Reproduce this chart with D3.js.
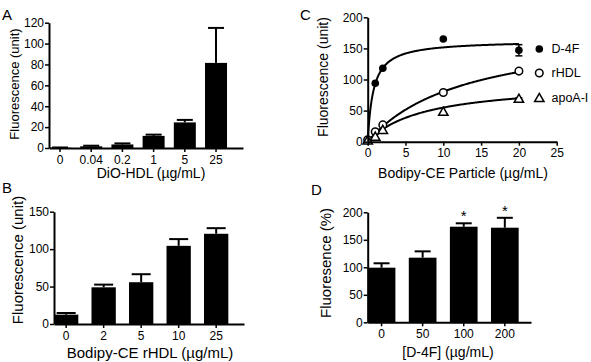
<!DOCTYPE html>
<html lang="en">
<head>
<meta charset="utf-8">
<script src="https://d3js.org/d3.v7.min.js"></script>
<style>
  body { margin: 0; background: #fff; }
  text { font-family: "Liberation Sans", Arial, sans-serif; fill: #000; }
</style>
</head>
<body>
<script>
// ---- data ----
// panel A
var aCats = ["0", "0.04", "0.2", "1", "5", "25"];
var aVals = [0.3, 1.6, 3.4, 11.6, 24.5, 81.5];
var aErrs = [0.2, 0.6, 1.0, 1.2, 2.4, 33.5];
// panel B
var bCats = ["0", "2", "5", "10", "25"];
var bVals = [12.5, 49, 55.8, 104.4, 120.5];
var bErrs = [2.2, 3.6, 10.7, 9, 7.5];
// panel C (points)
var cX = [0, 1, 2, 10, 20];
var cD4F = [3, 94, 118, 165, 147];
var cD4FErr = [0, 0, 0, 0, 9];
var cRHDL = [3, 16, 27, 79, 113.5];
var cRHDLErr = [0, 0, 0, 0, 3.5];
var cApoA = [2, 8, 19, 48, 69];
var cApoAErr = [0, 0, 0, 0, 1.5];
// hyperbolic fit curves drawn in C: [Bmax, Kd]
var fitD4F = [163, 0.75];
var fitRHDL = [185, 13];
var fitApoA = [96, 7.5];
var cSeries = ["D-4F", "rHDL", "apoA-I"];
// panel D
var dCats = ["0", "50", "100", "200"];
var dVals = [99.3, 117.5, 173.8, 172];
var dErrs = [8, 11.5, 6.2, 18];
var dSig = ["", "", "*", "*"];

var width = 591, height = 362;
var svg = d3.select('body').append('svg').attr('width', width).attr('height', height);
svg.append('rect').attr('width', width).attr('height', height).attr('fill', '#fff');

function styleAxis(g, fs) {
    g.select('.domain').attr('stroke', '#000').attr('stroke-width', 2);
    g.selectAll('.tick line').attr('stroke', '#000').attr('stroke-width', 1.5);
    g.selectAll('.tick text').attr('font-size', fs).attr('font-family', '"Liberation Sans", Arial, sans-serif').attr('fill', '#000');
}

function barPanel(p) {
    var x = d3.scaleBand().domain(p.cats).range([p.x0, p.x1]).paddingInner(p.pin).paddingOuter(p.pout).align(0);
    var y = d3.scaleLinear().domain(p.ydom).range([p.y0, p.y1]);
    var g = svg.append('g');

    var data = p.cats.map(function(c, i) { return {c: c, v: p.vals[i], e: p.errs[i], s: p.sig ? p.sig[i] : ''}; });

    // error bars (upper only)
    var eb = g.selectAll('g.err').data(data).join('g');
    eb.append('line')
        .attr('x1', function(d) { return x(d.c) + x.bandwidth() / 2; })
        .attr('x2', function(d) { return x(d.c) + x.bandwidth() / 2; })
        .attr('y1', function(d) { return y(d.v); })
        .attr('y2', function(d) { return y(d.v + d.e); })
        .attr('stroke', '#000').attr('stroke-width', 2);
    eb.append('line')
        .attr('x1', function(d) { return x(d.c) + x.bandwidth() / 2 - p.cap / 2; })
        .attr('x2', function(d) { return x(d.c) + x.bandwidth() / 2 + p.cap / 2; })
        .attr('y1', function(d) { return y(d.v + d.e); })
        .attr('y2', function(d) { return y(d.v + d.e); })
        .attr('stroke', '#000').attr('stroke-width', 2);

    g.selectAll('rect.bar').data(data).join('rect')
        .attr('x', function(d) { return x(d.c); })
        .attr('width', x.bandwidth())
        .attr('y', function(d) { return y(d.v); })
        .attr('height', function(d) { return y(0) - y(d.v); })
        .attr('fill', '#000');

    g.selectAll('text.sig').data(data.filter(function(d) { return d.s; })).join('text')
        .attr('x', function(d) { return x(d.c) + x.bandwidth() / 2; })
        .attr('y', function(d) { return y(d.v + d.e) - 2; })
        .attr('text-anchor', 'middle').attr('font-size', 15).attr('fill', '#000')
        .text(function(d) { return d.s; });

    var ya = g.append('g').attr('transform', 'translate(' + p.x0 + ',0)')
        .call(d3.axisLeft(y).tickValues(p.yticks).tickSize(4).tickSizeOuter(0).tickPadding(1));
    styleAxis(ya, p.tfs);
    var xa = g.append('g').attr('transform', 'translate(0,' + p.y0 + ')')
        .call(d3.axisBottom(x).tickSize(4).tickSizeOuter(0).tickPadding(3));
    styleAxis(xa, p.tfs);

    g.append('text').attr('transform', 'translate(' + p.ytx + ',' + p.yty + ') rotate(-90)')
        .attr('text-anchor', 'middle').attr('dominant-baseline', 'central')
        .attr('font-size', p.yfs).text(p.ytitle);
    g.append('text').attr('x', p.xtx).attr('y', p.xty).attr('text-anchor', 'middle')
        .attr('font-size', p.xfs).text(p.xtitle);
    g.append('text').attr('x', p.lx).attr('y', p.ly).attr('font-size', 15).text(p.label);
}

barPanel({cats: aCats, vals: aVals, errs: aErrs, x0: 49, x1: 243, pin: 0.295, pout: 0.256,
    ydom: [0, 120], y0: 148, y1: 22.7, yticks: [0, 20, 40, 60, 80, 100, 120], cap: 16, tfs: 12,
    ytitle: 'Fluorescence (unit)', ytx: 14, yty: 84, yfs: 13,
    xtitle: 'DiO-HDL (\u00b5g/mL)', xtx: 151, xty: 178, xfs: 14, label: 'A', lx: 2, ly: 19.5});

barPanel({cats: bCats, vals: bVals, errs: bErrs, x0: 54, x1: 244, pin: 0.352, pout: 0.209,
    ydom: [0, 150], y0: 324, y1: 211.7, yticks: [0, 50, 100, 150], cap: 19, tfs: 12,
    ytitle: 'Fluorescence (unit)', ytx: 17, yty: 260, yfs: 15,
    xtitle: 'Bodipy-CE rHDL (\u00b5g/mL)', xtx: 150, xty: 358, xfs: 15, label: 'B', lx: 2, ly: 193});

barPanel({cats: dCats, vals: dVals, errs: dErrs, sig: dSig, x0: 367.7, x1: 531, pin: 0.326, pout: 0.15,
    ydom: [0, 200], y0: 322.3, y1: 212.3, yticks: [0, 50, 100, 150, 200], cap: 16, tfs: 12,
    ytitle: 'Fluoresence (%)', ytx: 325, yty: 263, yfs: 15,
    xtitle: '[D-4F] (\u00b5g/mL)', xtx: 448, xty: 356.5, xfs: 14, label: 'D', lx: 311, ly: 195});

// ---- panel C ----
(function() {
    var x = d3.scaleLinear().domain([0, 25]).range([367.7, 556.7]);
    var y = d3.scaleLinear().domain([0, 200]).range([141.7, 17.3]);
    var g = svg.append('g');

    var fits = [fitD4F, fitRHDL, fitApoA];
    var xs = d3.range(0, 20.001, 0.1);
    var line = d3.line().x(function(d) { return x(d[0]); }).y(function(d) { return y(d[1]); });
    fits.forEach(function(f) {
        g.append('path')
            .attr('d', line(xs.map(function(v) { return [v, f[0] * v / (f[1] + v)]; })))
            .attr('fill', 'none').attr('stroke', '#000').attr('stroke-width', 2);
    });

    var sets = [
        {vals: cD4F, errs: cD4FErr, type: 'filled'},
        {vals: cRHDL, errs: cRHDLErr, type: 'open'},
        {vals: cApoA, errs: cApoAErr, type: 'tri'}
    ];
    var tri = d3.symbol().type(d3.symbolTriangle).size(38);

    function marker(sel, type) {
        if (type === 'filled') sel.append('circle').attr('r', 3.8).attr('fill', '#000');
        else if (type === 'open') sel.append('circle').attr('r', 3.8).attr('fill', '#fff').attr('stroke', '#000').attr('stroke-width', 1.5);
        else sel.append('path').attr('d', tri).attr('transform', 'translate(0,0.8)').attr('fill', '#fff').attr('stroke', '#000').attr('stroke-width', 1.5);
    }

    sets.forEach(function(s) {
        cX.forEach(function(xv, i) {
            var cx = x(xv), cy = y(s.vals[i]);
            if (s.errs[i] > 0) {
                var t = y(s.vals[i] + s.errs[i]), b = y(s.vals[i] - s.errs[i]);
                g.append('line').attr('x1', cx).attr('x2', cx).attr('y1', t).attr('y2', b).attr('stroke', '#000').attr('stroke-width', 1.5);
                [t, b].forEach(function(yy) {
                    g.append('line').attr('x1', cx - 3.5).attr('x2', cx + 3.5).attr('y1', yy).attr('y2', yy).attr('stroke', '#000').attr('stroke-width', 1.5);
                });
            }
            marker(g.append('g').attr('transform', 'translate(' + cx + ',' + cy + ')'), s.type);
        });
    });

    var ya = g.append('g').attr('transform', 'translate(' + x(0) + ',0)')
        .call(d3.axisLeft(y).tickValues([0, 50, 100, 150, 200]).tickSize(4).tickSizeOuter(0).tickPadding(1));
    styleAxis(ya, 12);
    var xa = g.append('g').attr('transform', 'translate(0,' + y(0) + ')')
        .call(d3.axisBottom(x).tickValues([0, 5, 10, 15, 20, 25]).tickSize(4).tickSizeOuter(0).tickPadding(3));
    styleAxis(xa, 12);

    g.append('text').attr('transform', 'translate(323,77) rotate(-90)')
        .attr('text-anchor', 'middle').attr('dominant-baseline', 'central')
        .attr('font-size', 14).text('Fluorescence (unit)');
    g.append('text').attr('x', 463).attr('y', 178).attr('text-anchor', 'middle')
        .attr('font-size', 14).text('Bodipy-CE Particle (\u00b5g/mL)');
    g.append('text').attr('x', 300).attr('y', 20).attr('font-size', 15).text('C');

    // legend
    var ly = [49, 73, 98];
    sets.forEach(function(s, i) {
        marker(g.append('g').attr('transform', 'translate(539.3,' + ly[i] + ')'), s.type);
        g.append('text').attr('x', 551.5).attr('y', ly[i]).attr('dominant-baseline', 'central')
            .attr('font-size', 12.5).text(cSeries[i]);
    });
})();
</script>
</body>
</html>
